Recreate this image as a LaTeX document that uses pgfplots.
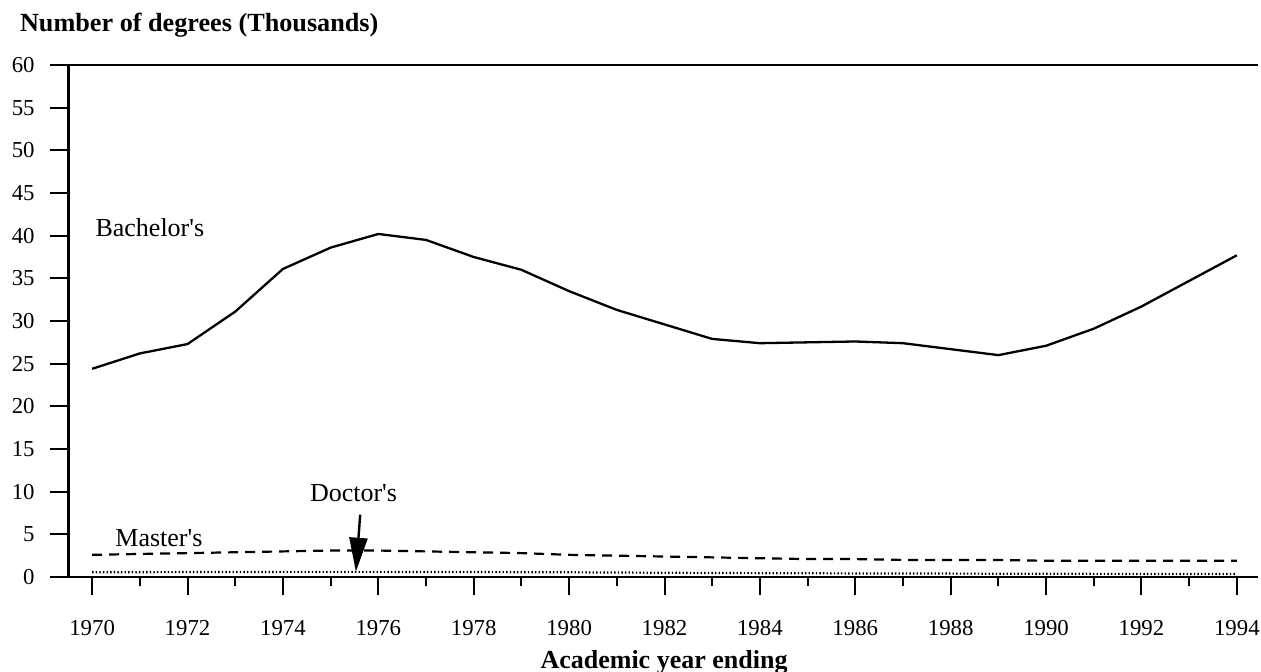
\documentclass[border=0pt]{standalone}
\usepackage{pgfplots}
\pgfplotsset{compat=1.18}
\usepackage{pgfplotstable}
\usepackage{fontspec}
\setmainfont{Liberation Serif}
\usetikzlibrary{arrows.meta}

\pgfplotstableread{
year val
1970 24.4
1971 26.2
1972 27.3
1973 31.1
1974 36.1
1975 38.6
1976 40.2
1977 39.5
1978 37.5
1979 36.0
1980 33.5
1981 31.3
1982 29.6
1983 27.9
1984 27.4
1985 27.5
1986 27.6
1987 27.4
1988 26.7
1989 26.0
1990 27.1
1991 29.1
1992 31.7
1993 34.7
1994 37.7
}\bachelor

\pgfplotstableread{
year val
1970 2.6
1971 2.7
1972 2.8
1973 2.9
1974 3.0
1975 3.1
1976 3.1
1977 3.0
1978 2.9
1979 2.8
1980 2.6
1981 2.5
1982 2.4
1983 2.3
1984 2.2
1985 2.1
1986 2.1
1987 2.0
1988 2.0
1989 2.0
1990 1.9
1991 1.9
1992 1.9
1993 1.9
1994 1.9
}\master

\pgfplotstableread{
year val
1970 0.55
1972 0.58
1974 0.6
1976 0.6
1978 0.58
1980 0.55
1982 0.5
1984 0.45
1986 0.42
1988 0.4
1990 0.38
1992 0.36
1994 0.35
}\doctor

\begin{document}
\begin{tikzpicture}
\path[use as bounding box] (0,0) rectangle (630.5pt,335.5pt);
\begin{axis}[
  at={(34.15pt,47pt)}, anchor=south west,
  scale only axis, width=595pt, height=256pt,
  xmin=1969.5, xmax=1994.45, ymin=0, ymax=60,
  axis x line*=bottom, axis y line*=left,
  axis line style={line width=1.3pt},
  xtick={1970,1972,...,1994},
  minor xtick={1971,1973,...,1993},
  ytick={0,5,...,60},
  tick align=outside,
  major tick length=9pt, minor tick length=4.5pt,
  every tick/.style={line width=1pt, black},
  /pgf/number format/1000 sep={},
  /pgf/number format/assume math mode=true,
  tick label style={font=\fontsize{11.4}{13}\selectfont},
  yticklabel style={anchor=east, inner sep=0pt, xshift=-7.65pt},
  xticklabel style={anchor=north, inner sep=0pt, yshift=-12.25pt},
  clip=false,
]
\draw[line width=1.3pt] (rel axis cs:0,1) -- (rel axis cs:1,1);
\addplot[black, line width=1.15pt] table[x=year,y=val] {\bachelor};
\addplot[black, line width=1.1pt, dash pattern=on 5pt off 3.5pt] table[x=year,y=val] {\master};
\addplot[black, line width=1.1pt, dash pattern=on 0.7pt off 1.1pt] table[x=year,y=val] {\doctor};
\node[anchor=base, font=\fontsize{13}{15}\selectfont] at (axis cs:1971.21,39.94) {Bachelor\textquotesingle s};
\node[anchor=base, font=\fontsize{13}{15}\selectfont] at (axis cs:1971.40,3.56) {Master\textquotesingle s};
\node[anchor=base, font=\fontsize{13}{15}\selectfont] at (axis cs:1975.48,8.84) {Doctor\textquotesingle s};
\draw[line width=1.2pt, -{Triangle[length=17pt,width=9pt]}] (axis cs:1975.62,7.3) -- (axis cs:1975.53,0.62);
\end{axis}
\node[anchor=base west, font=\bfseries\fontsize{13.1}{15}\selectfont] at (6.5pt,319.65pt) {Number of degrees (Thousands)};
\node[anchor=base, font=\bfseries\fontsize{13}{15}\selectfont] at (332pt,1.5pt) {Academic year ending};
\end{tikzpicture}
\end{document}
